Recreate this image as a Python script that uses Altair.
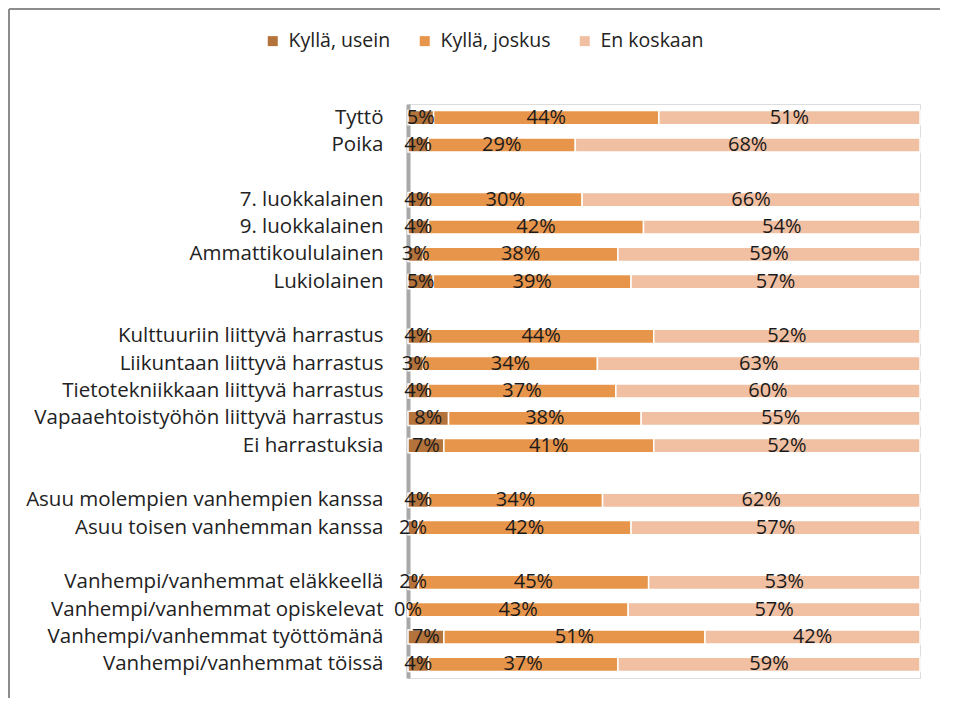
import altair as alt
import pandas as pd

categories = [
    "Tyttö", "Poika",
    "7. luokkalainen", "9. luokkalainen", "Ammattikoululainen", "Lukiolainen",
    "Kulttuuriin liittyvä harrastus", "Liikuntaan liittyvä harrastus",
    "Tietotekniikkaan liittyvä harrastus", "Vapaaehtoistyöhön liittyvä harrastus",
    "Ei harrastuksia",
    "Asuu molempien vanhempien kanssa", "Asuu toisen vanhemman kanssa",
    "Vanhempi/vanhemmat eläkkeellä", "Vanhempi/vanhemmat opiskelevat",
    "Vanhempi/vanhemmat työttömänä", "Vanhempi/vanhemmat töissä",
]
usein = [5, 4, 4, 4, 3, 5, 4, 3, 4, 8, 7, 4, 2, 2, 0, 7, 4]
joskus = [44, 29, 30, 42, 38, 39, 44, 34, 37, 38, 41, 34, 42, 45, 43, 51, 37]
koskaan = [51, 68, 66, 54, 59, 57, 52, 63, 60, 55, 52, 62, 57, 53, 57, 42, 59]

series = ["Kyllä, usein", "Kyllä, joskus", "En koskaan"]
colors = ["#B5733C", "#E8954C", "#F1C0A3"]

FONT = "Open Sans"

# row slots incl. blank spacer rows between groups
slots = (categories[0:2] + [" "] + categories[2:6] + ["  "] + categories[6:11]
         + ["   "] + categories[11:13] + ["    "] + categories[13:17])

rows = []
for i, c in enumerate(categories):
    for k, (s, v) in enumerate(zip(series, [usein[i], joskus[i], koskaan[i]])):
        rows.append({"cat": c, "series": s, "value": v, "ord": k, "label": f"{v}%"})
df = pd.DataFrame(rows)

yscale = alt.Scale(domain=slots, paddingInner=0.48, paddingOuter=0.24)

base = alt.Chart(df).transform_stack(
    stack="value", groupby=["cat"], as_=["x0", "x1"], offset="normalize",
    sort=[alt.SortField("ord", order="ascending")]
).transform_calculate(mid="(datum.x0 + datum.x1) / 2")

bars = base.mark_bar(stroke="white", strokeWidth=1.5).encode(
    y=alt.Y("cat:N", scale=yscale, title=None,
            axis=alt.Axis(ticks=False, labelPadding=25, labelFontSize=20.5,
                          labelFont=FONT, labelColor="#222222",
                          domainColor="#a8a8a8", domainWidth=4, labelLimit=500)),
    x=alt.X("x0:Q", scale=alt.Scale(domain=[0, 1]), axis=None),
    x2="x1",
    color=alt.Color("series:N", scale=alt.Scale(domain=series, range=colors),
                    legend=alt.Legend(title=None, orient="none", direction="horizontal",
                                      legendX=-145, legendY=-73, symbolType="square",
                                      symbolSize=100, symbolStrokeWidth=0,
                                      labelFontSize=19.5, labelFont=FONT, labelOffset=6,
                                      labelColor="#222222", columnPadding=24)),
    order=alt.Order("ord:Q"),
)

texts = base.mark_text(fontSize=20, font=FONT, color="#1a1a1a").encode(
    y=alt.Y("cat:N", scale=yscale),
    x=alt.X("mid:Q", scale=alt.Scale(domain=[0, 1])),
    text="label:N",
)

frame_df = pd.DataFrame({"a": [0]})
frame_v = alt.Chart(frame_df).mark_rule(color="#8c8c8c", strokeWidth=2).encode(
    x=alt.value(-399), y=alt.value(-95), y2=alt.value(700))
frame_h = alt.Chart(frame_df).mark_rule(color="#8c8c8c", strokeWidth=2).encode(
    x=alt.value(-399), x2=alt.value(600), y=alt.value(-95))

chart = alt.layer(frame_v, frame_h, bars, texts).properties(
    width=512, height=574,
    autosize=alt.AutoSizeParams(type="none"),
    padding={"left": 400, "top": 96, "right": 20, "bottom": 20},
).configure_view(stroke=None).configure(background="white")

chart.save("out.html", embed_options={"renderer": "svg", "actions": False})
